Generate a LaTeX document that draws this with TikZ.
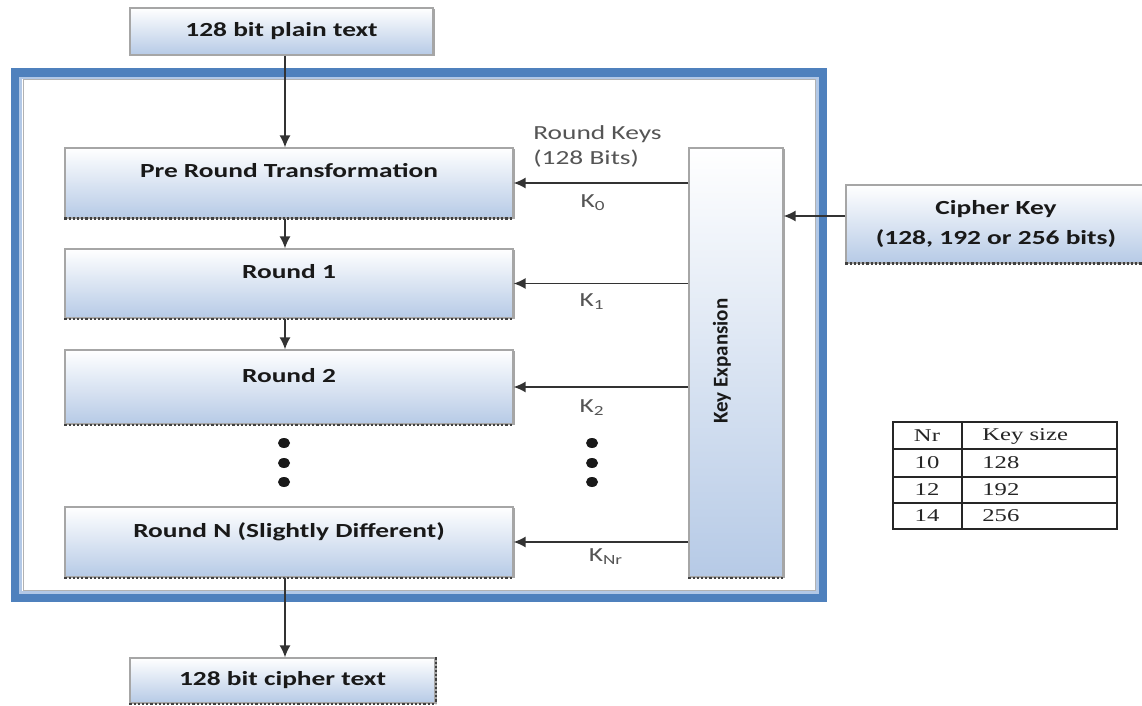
\documentclass[tikz,border=0pt]{standalone}
\usepackage{fontspec}
\setmainfont[FakeStretch=1.37]{Carlito}
\newfontfamily\vertfont{Carlito}
\newfontfamily\tabfont[FakeStretch=1.37]{Liberation Serif}
\usetikzlibrary{positioning,arrows.meta,shadows}
\definecolor{boxblue}{RGB}{182,202,230}
\definecolor{frameblue}{RGB}{79,129,189}
\definecolor{framelight}{RGB}{178,200,230}
\definecolor{keygray}{RGB}{85,85,85}
\tikzset{
  stage/.style={draw=black!35,line width=0.6pt,top color=white,bottom color=boxblue,
    drop shadow={shadow xshift=1pt,shadow yshift=-0.6pt,fill=black!50,opacity=0.7},
    font=\bfseries\color{black!90},align=center,inner sep=0pt},
  roundbox/.style={stage,minimum width=224pt,text height=7pt,text depth=12pt},
  flow/.style={draw=black!80,line width=0.8pt,-{Latex[length=6pt,width=5.5pt]}},
  keylbl/.style={font=\color{keygray},inner sep=1pt},
  tabline/.style={line width=0.8pt,black!85},
  tabtxt/.style={font=\tabfont\fontsize{9}{10}\selectfont\color{black!85},inner sep=0pt}
}
\begin{document}
\begin{tikzpicture}[x=0.5pt,y=-0.5pt]
\useasboundingbox[fill=white] (0,0) rectangle (1142,706);
% ---- outer frame ----
\draw[frameblue,line width=4.5pt] (15,73) rectangle (822,597);
\draw[framelight,line width=1.2pt] (20.5,78) rectangle (817.5,592.5);
\draw[black!30,line width=0.5pt] (23,80) rectangle (815,590);
% ---- boxes ----
\node[stage,minimum width=151.5pt,minimum height=23.5pt] (plain) at (281.5,31.5) {128 bit plain text};
\node[roundbox,minimum height=35pt] (pre) at (289,183) {Pre Round Transformation};
\node[roundbox,minimum height=34.5pt] (r1) at (289,283.5) {Round 1};
\node[roundbox,minimum height=37pt] (r2) at (289,387) {Round 2};
\node[roundbox,minimum height=35pt] (rN) at (289,542) {Round N (Slightly Different)};
\node[stage,minimum width=47pt,minimum height=214.5pt] (keyexp) at (736,362.5) {};
\node[rotate=90,font=\vertfont\bfseries\fontsize{10.5}{12}\selectfont\color{black!90}] (keytxt) at (722,361) {Key Expansion};
\node[stage,minimum width=150pt,minimum height=39pt,font=\bfseries\fontsize{10}{15}\selectfont\color{black!90}] (ckey) at (996,224) {Cipher Key\\(128, 192 or 256 bits)};
\node[stage,minimum width=152.5pt,minimum height=22.5pt] (ctext) at (282.5,680.5) {128 bit cipher text};
% dotted lower edges
\foreach \b in {pre,r1,r2,rN,keyexp,ckey,ctext}
  \draw[densely dotted,line width=1.1pt,black!75] (\b.south west) -- (\b.south east);
\draw[densely dotted,line width=1.1pt,black!75] (ctext.north east) -- (ctext.south east);
% ---- data path ----
\coordinate (col) at (285,0);
\draw[flow] (col |- plain.south) -- (col |- pre.north);
\draw[flow] (col |- pre.south) -- (col |- r1.north);
\draw[flow] (col |- r1.south) -- (col |- r2.north);
\draw[flow] (col |- rN.south) -- (col |- ctext.north);
% ---- round keys ----
\foreach \r in {pre,r1,r2,rN}
  \draw[flow] (keyexp.west |- \r.east) -- (\r.east);
\draw[flow] ([yshift=4pt]ckey.west) -- ([yshift=4pt]keyexp.east |- ckey.west);
\node[keylbl,anchor=west,align=left,font=\fontsize{10}{12.5}\selectfont\color{keygray}] (rkeys) at (531,146) {Round Keys\\(128 Bits)};
\node[keylbl] (k0) at (593,203) {K\textsubscript{0}};
\node[keylbl] (k1) at (592,302) {K\textsubscript{1}};
\node[keylbl] (k2) at (592,408) {K\textsubscript{2}};
\node[keylbl] (kNr) at (606,557) {K\textsubscript{Nr}};
% ---- dots ----
\foreach \yy in {443,463,482} {
  \fill[black!90] (284,\yy) ellipse (3pt and 2.5pt);
  \fill[black!90] (592,\yy) ellipse (3pt and 2.5pt);}
% ---- table ----
\draw[tabline] (893,422) rectangle (1117,529);
\foreach \yy in {449,477,503} \draw[tabline] (893,\yy) -- (1117,\yy);
\draw[tabline] (962,422) -- (962,529);
\foreach \nr/\ks/\yy in {Nr/Key size/436,10/128/463,12/192/490,14/256/516} {
  \node[tabtxt] (nr\yy) at (927,\yy) {\nr};
  \node[tabtxt,anchor=west] (ks\yy) at (982,\yy) {\ks};}
\end{tikzpicture}
\end{document}
